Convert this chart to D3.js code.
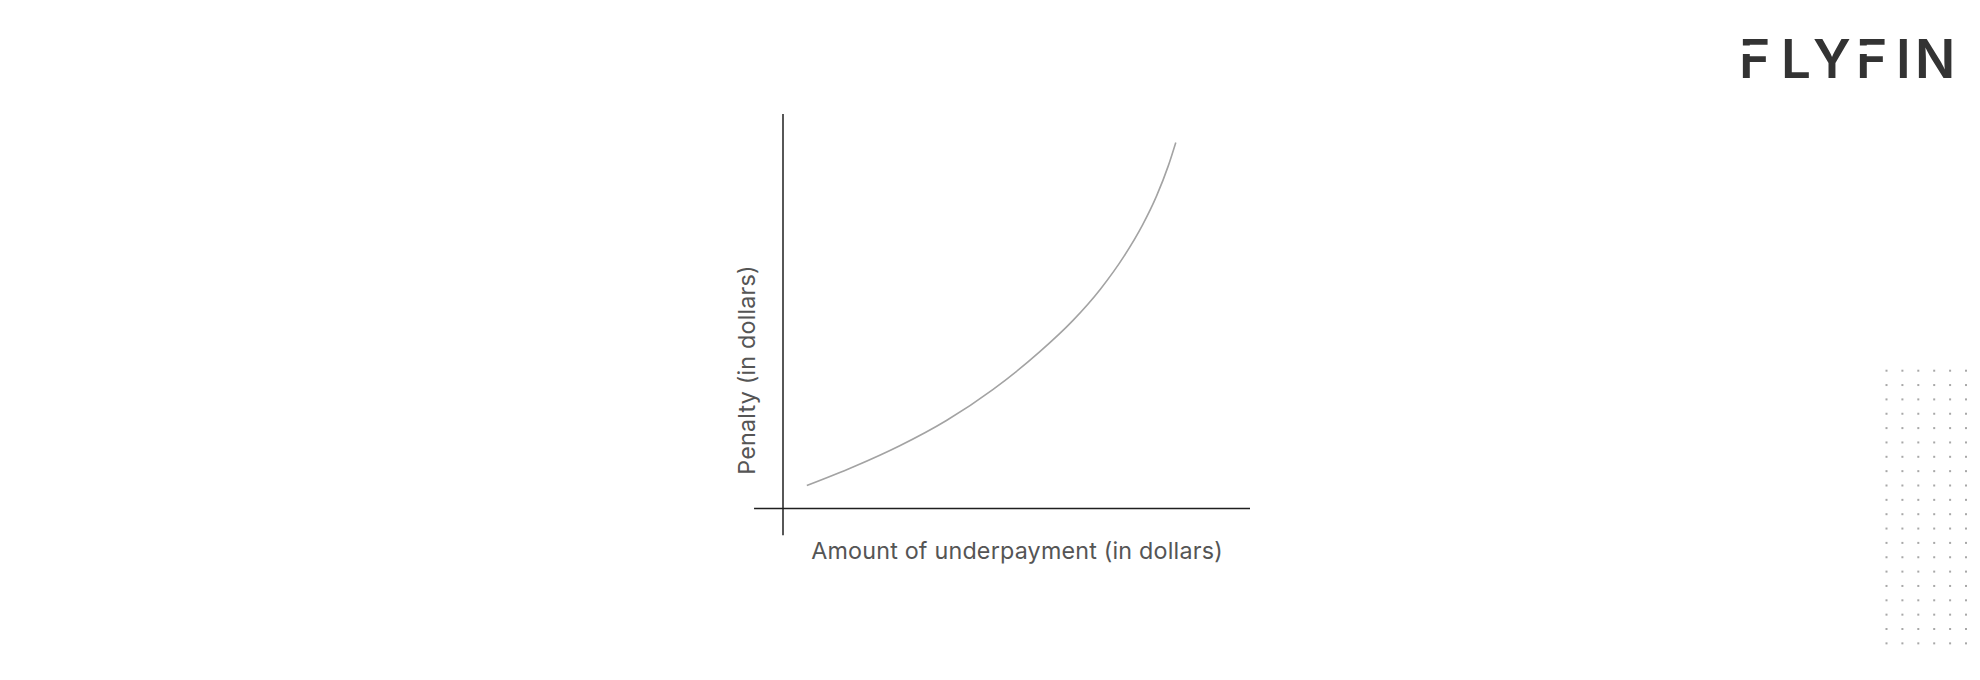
<!DOCTYPE html>
<html>
<head>
<meta charset="utf-8">
<script src="https://cdn.jsdelivr.net/npm/d3@7"></script>
<style>
  html, body { margin: 0; padding: 0; background: #ffffff; }
  svg { display: block; }
</style>
</head>
<body>
<svg id="chart" width="1980" height="680"></svg>
<script>
// ---- data (arbitrary units) ----
const underpayment = [5.1, 15, 25, 35, 45, 55, 62, 68, 73, 77, 80, 82.5, 84.1];
const penalty      = [5.8, 10.5, 15.9, 22.3, 30.2, 39.75, 47.55, 55.65, 63.9, 71.9, 79.25, 86.85, 92.75];
const xAxisTitle = "Amount of underpayment (in dollars)";
const yAxisTitle = "Penalty (in dollars)";
const logoLetters = ["F", "L", "Y", "F", "I", "N"];

const svg = d3.select("#chart");

const x = d3.scaleLinear().domain([0, 100]).range([783, 1250]);
const y = d3.scaleLinear().domain([0, 100]).range([508.5, 114]);

// axes lines
svg.append("line")
  .attr("x1", x(-6.2)).attr("x2", x(100))
  .attr("y1", y(0)).attr("y2", y(0))
  .attr("stroke", "#1f1f1f").attr("stroke-width", 1.5);
svg.append("line")
  .attr("x1", x(0)).attr("x2", x(0))
  .attr("y1", y(100)).attr("y2", y(-6.8))
  .attr("stroke", "#1f1f1f").attr("stroke-width", 1.5);

// curve
const pts = underpayment.map((d, i) => [d, penalty[i]]);
svg.append("path")
  .datum(pts)
  .attr("fill", "none")
  .attr("stroke", "#a3a3a3")
  .attr("stroke-width", 1.6)
  .attr("d", d3.line().x(d => x(d[0])).y(d => y(d[1])).curve(d3.curveMonotoneX));

// axis titles
svg.append("text")
  .attr("x", 1017).attr("y", 559)
  .attr("text-anchor", "middle")
  .attr("font-family", "Inter, sans-serif")
  .attr("font-size", 23.3)
  .attr("letter-spacing", 0.2)
  .attr("fill", "#555555")
  .text(xAxisTitle);

svg.append("text")
  .attr("transform", "translate(755,370) rotate(-90)")
  .attr("text-anchor", "middle")
  .attr("font-family", "Inter, sans-serif")
  .attr("font-size", 23.3)
  .attr("letter-spacing", 0.2)
  .attr("fill", "#555555")
  .text(yAxisTitle);

// logo
const logoX = [1739, 1781, 1813, 1856, 1896, 1915];
const logo = svg.append("g").attr("font-family", "Inter, sans-serif")
  .attr("font-weight", 600).attr("font-size", 53).attr("fill", "#333333");
logo.selectAll("text").data(logoLetters).join("text")
  .attr("x", (d, i) => logoX[i]).attr("y", 77.5)
  .text(d => d);
// split in the stylised F letters (gap between top bar and the lower part)
[0, 3].forEach(i => {
  svg.append("rect")
    .attr("x", logoX[i] + 3).attr("y", 45.5)
    .attr("width", 9).attr("height", 8.5)
    .attr("fill", "#ffffff");
});

// decorative dot grid
const dotCols = 6, dotRows = 20;
const dotG = svg.append("g").attr("fill", "#a8a8a8");
for (let r = 0; r < dotRows; r++) {
  for (let c = 0; c < dotCols; c++) {
    dotG.append("rect")
      .attr("x", 1886.5 + c * 15.9 - 1)
      .attr("y", 370.7 + r * 14.35 - 1)
      .attr("width", 2).attr("height", 2);
  }
}
</script>
</body>
</html>
